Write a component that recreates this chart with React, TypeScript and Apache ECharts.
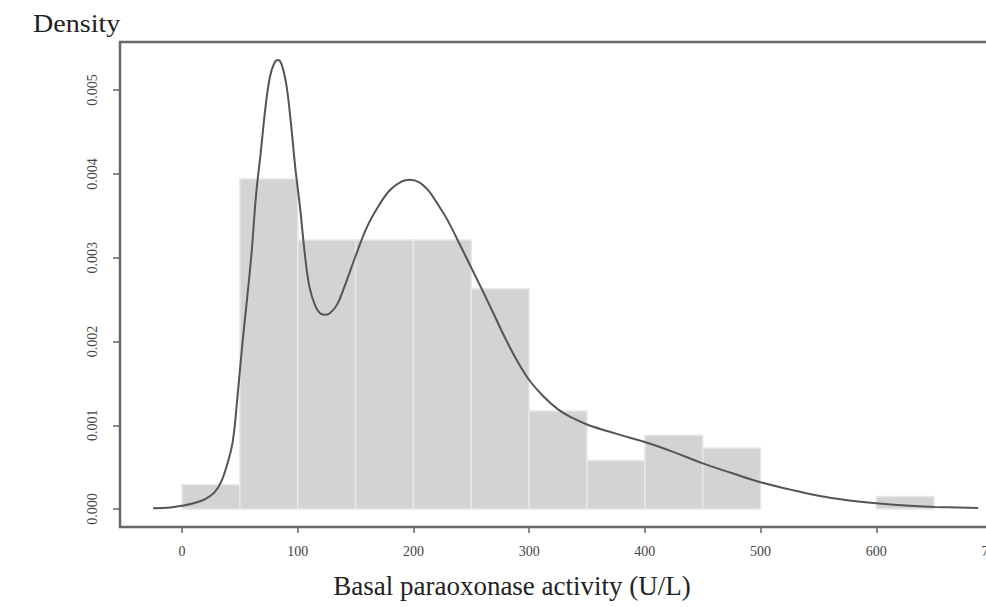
import React, { useEffect, useRef } from "react";
import * as echarts from "echarts";

// Histogram bins (start of each 50-wide bin) and their densities
const binStarts = [0, 50, 100, 150, 200, 250, 300, 350, 400, 450, 600];
const binDensity = [0.00029, 0.00394, 0.00321, 0.00321, 0.00321, 0.00263, 0.00117, 0.00058, 0.00088, 0.00073, 0.00015];
const binWidth = 50;

// Kernel density curve
const curveX = [-25, -10, 0, 10, 20, 28, 34, 40, 44, 48, 52, 56, 60, 64, 68, 72, 76, 80, 83, 86, 90, 94, 98, 102, 106, 110, 115, 120, 124, 128, 134, 140, 150, 160, 170, 180, 190, 197, 205, 213, 220, 229, 240, 250, 260, 270, 280, 290, 300, 312, 325, 337, 350, 375, 400, 425, 450, 475, 500, 525, 550, 575, 600, 625, 650, 688];
const curveY = [0.00001, 0.00002, 0.00004, 0.00007, 0.00012, 0.0002, 0.00033, 0.00058, 0.00082, 0.00135, 0.00195, 0.00248, 0.00304, 0.00375, 0.00425, 0.00478, 0.00516, 0.00533, 0.00536, 0.00531, 0.00508, 0.00462, 0.00406, 0.0036, 0.00306, 0.00266, 0.00243, 0.00233, 0.00232, 0.00234, 0.00244, 0.00264, 0.00302, 0.00337, 0.00362, 0.00381, 0.00391, 0.00393, 0.0039, 0.0038, 0.00366, 0.00346, 0.00316, 0.00288, 0.0026, 0.00231, 0.00202, 0.00176, 0.00154, 0.00135, 0.00119, 0.00109, 0.00101, 0.0009, 0.0008, 0.00068, 0.000545, 0.00043, 0.00032, 0.000235, 0.000158, 0.000105, 0.000068, 0.000042, 0.000026, 0.000012];

const xTicks = [0, 100, 200, 300, 400, 500, 600, 700];
const yTicks = [0, 0.001, 0.002, 0.003, 0.004, 0.005];

const yTitle = "Density";
const xTitle = "Basal paraoxonase activity (U/L)";

const SERIF = '"Liberation Serif", "DejaVu Serif", serif';

export default function App() {
  const ref = useRef<HTMLDivElement>(null);
  useEffect(() => {
    if (!ref.current) return;
    const chart = echarts.init(ref.current, null, { renderer: "svg" });
    chart.setOption({
      animation: false,
      backgroundColor: "#ffffff",
      grid: {
        left: 120,
        right: 16.5,
        top: 42,
        bottom: 80,
        show: true,
        borderColor: "#686868",
        borderWidth: 2.5,
        backgroundColor: "transparent",
        containLabel: false,
        outerBoundsMode: "none",
      },
      xAxis: {
        type: "value",
        min: -53.6,
        max: 718.6,
        splitLine: { show: false },
        axisLine: { show: false, onZero: false },
        axisTick: {
          show: true,
          customValues: xTicks,
          length: 6,
          lineStyle: { color: "#666", width: 1.5 },
        },
        axisLabel: {
          customValues: xTicks,
          fontFamily: SERIF,
          fontSize: 14,
          color: "#444",
          margin: 17,
        },
      },
      yAxis: {
        type: "value",
        min: -0.000214,
        max: 0.005574,
        splitLine: { show: false },
        axisLine: { show: false, onZero: false },
        axisTick: {
          show: true,
          customValues: yTicks,
          length: 7,
          lineStyle: { color: "#666", width: 1.5 },
        },
        axisLabel: {
          customValues: yTicks,
          rotate: 90,
          fontFamily: SERIF,
          fontSize: 14,
          color: "#444",
          margin: 21,
          formatter: (v: number) => v.toFixed(3),
        },
      },
      graphic: [
        {
          type: "text",
          x: 33,
          y: 23,
          scaleX: 1.08,
          style: {
            text: yTitle,
            font: `normal 26px ${SERIF}`,
            fill: "#222",
            textAlign: "left",
            textVerticalAlign: "middle",
          },
        },
        {
          type: "text",
          x: 512,
          y: 586,
          style: {
            text: xTitle,
            font: `normal 27px ${SERIF}`,
            fill: "#222",
            textAlign: "center",
            textVerticalAlign: "middle",
          },
        },
      ],
      series: [
        {
          type: "custom",
          name: "histogram",
          data: binStarts.map((s, i) => [s, binDensity[i]]),
          encode: { x: 0, y: 1 },
          renderItem: (params: any, api: any) => {
            const x0 = api.value(0);
            const y = api.value(1);
            const p0 = api.coord([x0, y]);
            const p1 = api.coord([x0 + binWidth, 0]);
            return {
              type: "rect",
              shape: { x: p0[0], y: p0[1], width: p1[0] - p0[0], height: p1[1] - p0[1] },
              style: { fill: "#d3d3d3", stroke: "#e8e8e8", lineWidth: 1.5 },
            };
          },
          z: 2,
        },
        {
          type: "line",
          name: "density",
          data: curveX.map((x, i) => [x, curveY[i]]),
          smooth: 0.4,
          showSymbol: false,
          symbol: "none",
          lineStyle: { color: "#555", width: 2 },
          z: 3,
        },
      ],
    });
    return () => chart.dispose();
  }, []);

  return (
    <div
      style={{
        position: "fixed",
        left: 0,
        top: 0,
        width: 986,
        height: 607,
        overflow: "hidden",
        background: "#fff",
      }}
    >
      <div ref={ref} style={{ width: 1030, height: 607 }} />
    </div>
  );
}
